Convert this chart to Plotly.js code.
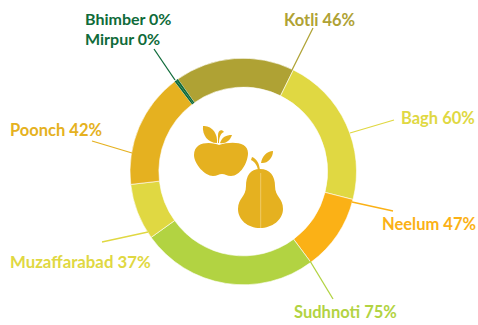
<!DOCTYPE html>
<html><head><meta charset="utf-8">
<script src="https://cdn.plot.ly/plotly-3.0.0.min.js"></script>
<style>html,body{margin:0;padding:0;background:#fff}#c{width:478px;height:325px}</style>
</head><body><div id="c"></div>
<script>
const districts=["Kotli","Bagh","Neelum","Sudhnoti","Muzaffarabad","Poonch","Bhimber","Mirpur"];
const percentLabels=[46,60,47,75,37,42,0,0];
const arcShares=[61.5,78,39,91,29,59.2,1,1];
const colors=["#AFA234","#E0D842","#FBB116","#B2D342","#E0D842","#E5B120","#0F6B3A","#0F6B3A"];
const labelX=[284,401,382,294,10,10,85,85];
const labelY=[20,118,224,312,261,130,18.8,38.6];
const labelSizes=[16.5,16.5,16.5,16.5,16.8,16.5,16,16];
const leaders=[[313,28,292,70],[394,120,350,133],[393,211,352,202],[333,299,310,261],[102,242,148,232],[92,141,132,153],[154,49,175,80]];
const leaderColors=["#AFA234","#E0D842","#FBB116","#B2D342","#E0D842","#E5B120","#0F6B3A"];
const iconGold="#E5B120";
const icons=[
"M219,145 C213,142 194,140 194,155 C194,164 205,176 213,176 C217,176 219,174 222,174 C225,174 227,176 231,176 C240,176 248,163 248,153 C248,142 232,141 219,145 Z",
"M203,126 C212,125 218,134 217,143 C208,143 202,135 203,126 Z",
"M218,143 L218,135 C218,130 222,129 224,132 C221,133 219,137 219,143 Z",
"M220,143 C222,137 226,135 232,135 C230,141 225,144 220,143 Z",
"M260,169 C250,169 246,176 246,186 C246,197 238,198 238,209 C238,220 248,228 260,228 C272,228 283,220 283,209 C283,198 275,197 275,186 C275,176 270,169 260,169 Z",
"M252,157 C257,159 259,163 260,170 L258,170 C257,165 255,162 251,160 Z",
"M261,163 C262,156 267,151 273,151 C273,158 267,164 261,163 Z"
];
const shapes=leaders.map((l,i)=>({type:"line",xref:"x",yref:"y",x0:l[0],y0:l[1],x1:l[2],y1:l[3],line:{color:leaderColors[i],width:1.3}}));
icons.forEach(p=>shapes.push({type:"path",xref:"x",yref:"y",path:p,fillcolor:iconGold,line:{width:0}}));
shapes.push({type:"line",xref:"x",yref:"y",x0:260.7,y0:173,x1:260.7,y1:228,line:{color:"#F0D27A",width:0.8}});
const annotations=districts.map((d,i)=>({xref:"x",yref:"y",x:labelX[i],y:labelY[i],xanchor:"left",yanchor:"middle",showarrow:false,
  text:"<b>"+d+" "+percentLabels[i]+"%</b>",font:{family:"Lato, sans-serif",size:labelSizes[i],color:colors[i]},borderpad:0,xshift:-1}));
const data=[
 {type:"scatter",x:[],y:[],hoverinfo:"skip",showlegend:false},
 {type:"pie",labels:districts,values:arcShares,sort:false,direction:"clockwise",rotation:-35.3,hole:0.745,textinfo:"none",hoverinfo:"label",
  marker:{colors:colors,line:{color:"#fff",width:[0.6,0.6,0.6,0.6,0.6,0.6,0,0]}},
  domain:{x:[130/478,356.5/478],y:[1-285/325,1-58/325]},showlegend:false}
];
const layout={width:478,height:325,margin:{l:0,r:0,t:0,b:0},paper_bgcolor:"#fff",plot_bgcolor:"#fff",showlegend:false,
 xaxis:{range:[0,478],visible:false,fixedrange:true},yaxis:{range:[325,0],visible:false,fixedrange:true},
 shapes:shapes,annotations:annotations};
Plotly.newPlot("c",data,layout,{displayModeBar:false,staticPlot:true});
</script></body></html>
